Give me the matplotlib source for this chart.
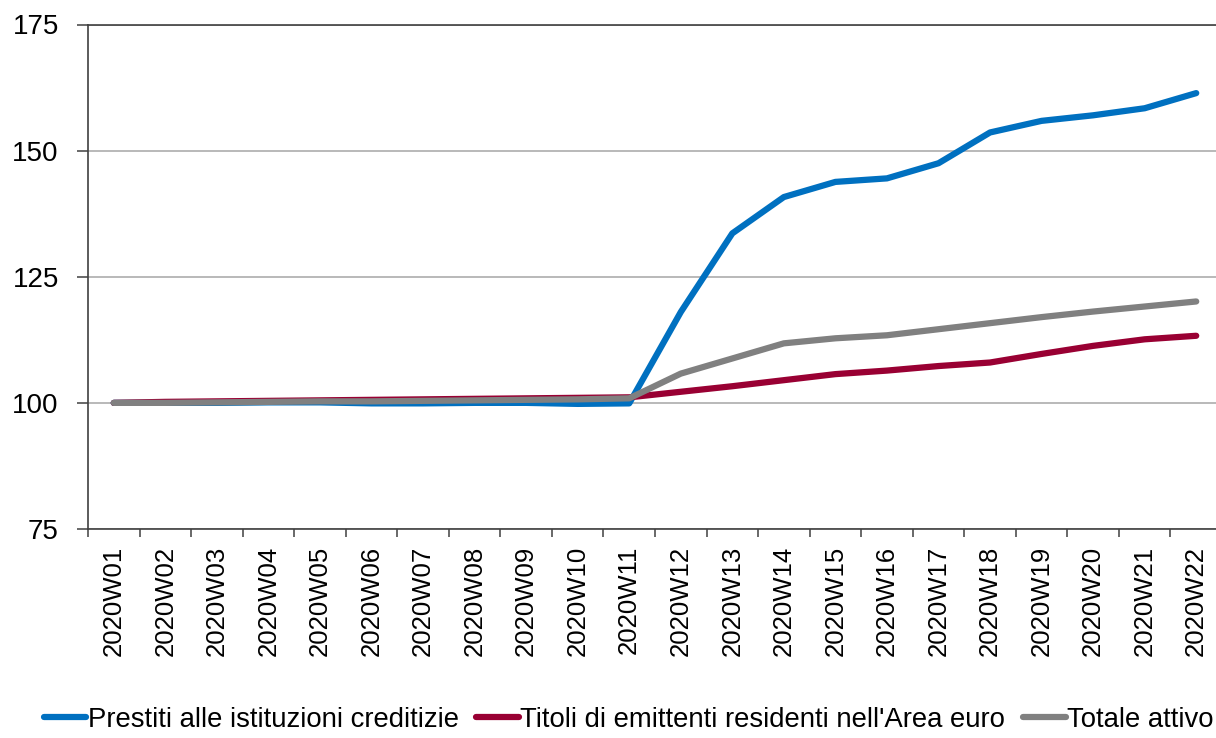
import matplotlib
matplotlib.use("Agg")
import matplotlib.pyplot as plt
from matplotlib.ticker import FixedLocator

weeks = [f"2020W{i:02d}" for i in range(1, 23)]

prestiti = [100.0, 100.0, 100.0, 100.1, 100.1, 99.9, 99.9, 100.0, 100.0, 99.8, 99.9,
            118.0, 133.6, 140.8, 143.8, 144.5, 147.5, 153.6, 155.9, 157.0, 158.4, 161.4]
titoli = [100.0, 100.2, 100.3, 100.4, 100.5, 100.6, 100.7, 100.8, 100.9, 101.0, 101.1,
          102.2, 103.3, 104.5, 105.7, 106.4, 107.3, 108.0, 109.7, 111.3, 112.6, 113.3]
totale = [100.0, 100.0, 100.1, 100.2, 100.3, 100.3, 100.4, 100.5, 100.6, 100.7, 100.9,
          105.8, 108.8, 111.8, 112.8, 113.4, 114.6, 115.8, 117.0, 118.1, 119.1, 120.1]

labels = ["Prestiti alle istituzioni creditizie",
          "Titoli di emittenti residenti nell'Area euro",
          "Totale attivo"]
colors = ["#0070c0", "#990033", "#808080"]

plt.rcParams["font.family"] = ["Liberation Sans", "DejaVu Sans"]
dark = "#404040"

fig = plt.figure(figsize=(12.16, 7.38), dpi=100)
ax = fig.add_axes([88 / 1216, 209 / 738, 1134 / 1216, 504.5 / 738])

x = list(range(len(weeks)))
for series, lab, col in zip([prestiti, titoli, totale], labels, colors):
    ax.plot(x, series, color=col, lw=4.5, solid_capstyle="round",
            solid_joinstyle="round", label=lab, zorder=3)

ax.set_xlim(-0.5, len(weeks) - 0.5)
ax.set_ylim(75, 175)
ax.set_yticks([75, 100, 125, 150, 175])
ax.yaxis.grid(True, color="#a6a6a6", lw=1.1)
ax.set_axisbelow(True)

# labels centred on each week, ticks on the boundaries
ax.set_xticks(x)
ax.set_xticklabels(weeks, rotation=90, fontsize=18.5)
ax.xaxis.set_minor_locator(FixedLocator([i - 0.5 for i in range(len(weeks) + 1)]))
ax.tick_params(axis="x", which="major", length=0, pad=12)
ax.tick_params(axis="x", which="minor", length=6, width=1.1, color=dark)
ax.tick_params(axis="y", length=8, width=1.1, color=dark, pad=13, labelsize=20)

for side in ["left", "bottom", "top"]:
    ax.spines[side].set_color(dark)
    ax.spines[side].set_linewidth(1.2)
ax.spines["right"].set_visible(False)

handles, labs = ax.get_legend_handles_labels()
leg = fig.legend(handles, labs, loc="center", bbox_to_anchor=(0.517, 0.025),
                 ncol=3, frameon=False, handlelength=1.55, handletextpad=0.05,
                 columnspacing=0.65, prop={"size": 19.8})

fig.savefig("out.png", dpi=100)
